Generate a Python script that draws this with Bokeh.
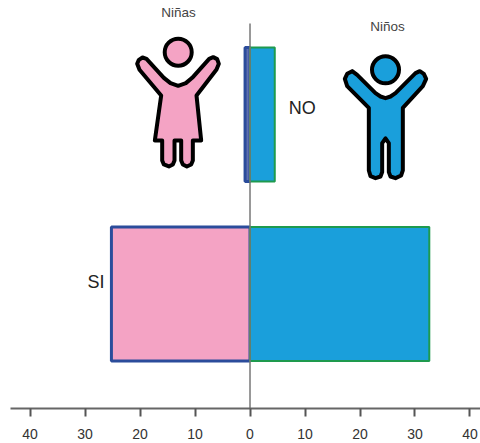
from bokeh.plotting import figure
from bokeh.models import FixedTicker, Range1d
from bokeh.core.properties import value
from bokeh.embed import file_html
from bokeh.resources import INLINE

categories = ["SI", "NO"]
ninas = [25.2, 0.9]
ninos = [32.6, 4.5]
ticks = [-40, -30, -20, -10, 0, 10, 20, 30, 40]
tick_labels = ["40", "30", "20", "10", "0", "10", "20", "30", "40"]
group_labels = ["Niñas", "Niños"]

PINK = "#F4A3C4"
BLUE = "#1A9FDB"
FONT = "Liberation Sans"

ypos = list(range(len(categories)))

p = figure(width=480, height=443, output_backend="svg", toolbar_location=None,
           x_range=Range1d(-43.55, 41.91), y_range=Range1d(-0.638, 1.635),
           min_border_left=10, min_border_right=0, min_border_top=0, min_border_bottom=35,
           background_fill_color="white", border_fill_color="white", outline_line_color=None)
p.grid.visible = False
p.yaxis.visible = False

ax = p.xaxis[0]
ax.ticker = FixedTicker(ticks=ticks)
ax.major_label_overrides = dict(zip(ticks, tick_labels))
ax.minor_tick_line_color = None
ax.major_tick_out = 8
ax.major_tick_in = 0
ax.major_tick_line_color = "#555555"
ax.major_tick_line_width = 2
ax.axis_line_color = "#666666"
ax.axis_line_width = 2
ax.major_label_text_font = FONT
ax.major_label_text_font_size = "14px"
ax.major_label_text_color = "#333333"
ax.major_label_standoff = 12


def dx(px):
    return (px - 249.5) / 5.5


def dy(py):
    return 1 + (114 - py) / 179.5


p.hbar(y=ypos, left=[-v for v in ninas], right=[0, 0], height=0.746,
       fill_color=[PINK, "#5F6FB0"], line_color="#2B4C9B", line_width=3)
p.hbar(y=ypos, left=[0, 0], right=ninos, height=0.746,
       fill_color=BLUE, line_color="#1E9A4E", line_width=2)

# central axis
p.segment(x0=[0], x1=[0], y0=[dy(23)], y1=[dy(408)], line_color="#777777", line_width=1.5)

# category labels
p.text(x=[-ninas[0]], y=[ypos[0]], text=[categories[0]], text_align="right", text_baseline="middle",
       x_offset=-7, y_offset=-12, text_font=value(FONT), text_font_size="18px", text_color="#222222")
p.text(x=[ninos[1]], y=[ypos[1]], text=[categories[1]], text_align="left", text_baseline="middle",
       x_offset=14, y_offset=-6, text_font=value(FONT), text_font_size="18px", text_color="#222222")

# group headings
p.text(x=[dx(178)], y=[dy(12)], text=[group_labels[0]], text_align="center", text_baseline="middle",
       text_font=value(FONT), text_font_size="13.5px", text_color="#444444")
p.text(x=[dx(387)], y=[dy(26)], text=[group_labels[1]], text_align="center", text_baseline="middle",
       text_font=value(FONT), text_font_size="13.5px", text_color="#444444")

# pictograms
girl = [(50, 190), (55, 178), (66, 171), (78, 175), (130, 232), (150, 248), (173, 256), (196, 248), (215, 232),
        (266, 175), (278, 170), (290, 176), (295, 190), (288, 207), (228, 285), (242, 420), (217, 420), (217, 480),
        (212, 492), (199, 498), (187, 492), (182, 480), (182, 420), (162, 420), (162, 480), (157, 492),
        (145, 498), (130, 492), (125, 480), (125, 420), (103, 420), (122, 285), (57, 208)]
boy = [(73, 235), (80, 220), (95, 212), (110, 223), (165, 278), (180, 288), (195, 293), (210, 288),
       (225, 278), (285, 218), (298, 212), (310, 220), (317, 235), (307, 257), (247, 322), (247, 510),
       (242, 525), (225, 533), (210, 528), (205, 515), (205, 428), (195, 414), (185, 428), (185, 515),
       (180, 528), (165, 533), (150, 527), (145, 510), (145, 322), (80, 257)]


def trace(pts, ox):
    return [dx(ox + a / 3) for a, _ in pts], [dy(b / 3) for _, b in pts]


gx, gy = trace(girl, 120)
bx, by = trace(boy, 320)
p.patch(gx, gy, fill_color=PINK, line_color="#000000", line_width=4, line_join="round")
p.patch(bx, by, fill_color=BLUE, line_color="#000000", line_width=4, line_join="round")
p.scatter(x=[dx(177.7)], y=[dy(51.7)], size=27, marker="circle", fill_color=PINK,
          line_color="#000000", line_width=4)
p.scatter(x=[dx(385)], y=[dy(69.3)], size=27, marker="circle", fill_color=BLUE,
          line_color="#000000", line_width=4)

open("out.html", "w").write(file_html(p, INLINE))
